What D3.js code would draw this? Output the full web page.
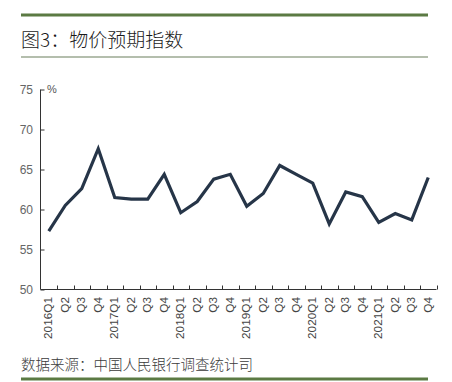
<!DOCTYPE html>
<html><head><meta charset="utf-8">
<script src="https://cdn.jsdelivr.net/npm/d3@7"></script>
<style>body{margin:0;background:#fff}svg{display:block}</style>
</head><body>
<script>
const categories = ["2016Q1","Q2","Q3","Q4","2017Q1","Q2","Q3","Q4","2018Q1","Q2","Q3","Q4",
  "2019Q1","Q2","Q3","Q4","2020Q1","Q2","Q3","Q4","2021Q1","Q2","Q3","Q4"];
const values = [57.3,60.5,62.6,67.6,61.5,61.3,61.3,64.4,59.6,61.0,63.8,64.4,
  60.4,62.0,65.5,64.4,63.3,58.2,62.2,61.6,58.4,59.5,58.7,64.0];
const yTicks = [50,55,60,65,70,75];
const title = "图3：物价预期指数";
const source = "数据来源：中国人民银行调查统计司";
const unit = "%";

const W = 452, H = 382;
const svg = d3.select("body").append("svg").attr("width", W).attr("height", H);
const green = "#5b7a43";
const cjk = "'Noto Sans CJK SC', sans-serif";
const lat = "'Liberation Sans', Arial, sans-serif";

svg.append("rect").attr("x",21).attr("y",13.5).attr("width",407).attr("height",3).attr("fill",green);
svg.append("text").attr("x",21).attr("y",47).attr("font-family",cjk).attr("font-size",19)
  .attr("font-weight",300).attr("fill","#1a1a1a").text(title);
svg.append("rect").attr("x",21).attr("y",56.5).attr("width",407).attr("height",1).attr("fill","#6b7f5c");
svg.append("text").attr("x",21).attr("y",370).attr("font-family",cjk).attr("font-size",14.5)
  .attr("font-weight",300).attr("fill","#3a3a3a").text(source);
svg.append("rect").attr("x",21).attr("y",377.5).attr("width",407).attr("height",3).attr("fill",green);

const x = d3.scaleBand().domain(d3.range(categories.length)).range([40.5, 436.5]).padding(0);
const y = d3.scaleLinear().domain([50, 75]).range([289.5, 89.5]);

// y axis
const ya = svg.append("g").attr("transform","translate(40.5,0)")
  .call(d3.axisRight(y).tickValues(yTicks).tickSize(4).tickFormat(""));
ya.select(".domain").remove();
ya.selectAll("line").attr("stroke","#333");
svg.append("line").attr("x1",40.5).attr("x2",40.5).attr("y1",y(75)).attr("y2",y(50)).attr("stroke","#333");
svg.append("g").selectAll("text").data(yTicks).join("text")
  .attr("x",33).attr("y",d=>y(d)).attr("dy","0.35em").attr("text-anchor","end")
  .attr("font-family",lat).attr("font-size",12).attr("fill","#666").text(d=>d);
svg.append("text").attr("x",47).attr("y",y(75)+3).attr("font-family",lat).attr("font-size",11)
  .attr("fill","#555").text(unit);

// x axis
const boundaries = d3.range(categories.length + 1).map(i => 40.5 + i * x.step());
svg.append("line").attr("x1",40.5).attr("x2",boundaries[boundaries.length-1]).attr("y1",289.5).attr("y2",289.5).attr("stroke","#333");
svg.append("g").selectAll("line").data(boundaries.slice(1)).join("line")
  .attr("x1",d=>Math.round(d)+0.5).attr("x2",d=>Math.round(d)+0.5).attr("y1",289.5).attr("y2",285.5).attr("stroke","#333");
svg.append("g").selectAll("text").data(categories).join("text")
  .attr("transform",(d,i)=>`translate(${x(i)+x.bandwidth()/2+3.5},297) rotate(-90) scale(1.18,1)`)
  .attr("text-anchor","end").attr("font-family",lat).attr("font-size",10).attr("fill","#444").text(d=>d);

// line
const line = d3.line().x((d,i)=>x(i)+x.bandwidth()/2).y(d=>y(d));
svg.append("path").datum(values).attr("d",line).attr("fill","none")
  .attr("stroke","#263548").attr("stroke-width",3.2).attr("stroke-linejoin","miter");
</script>
</body></html>
